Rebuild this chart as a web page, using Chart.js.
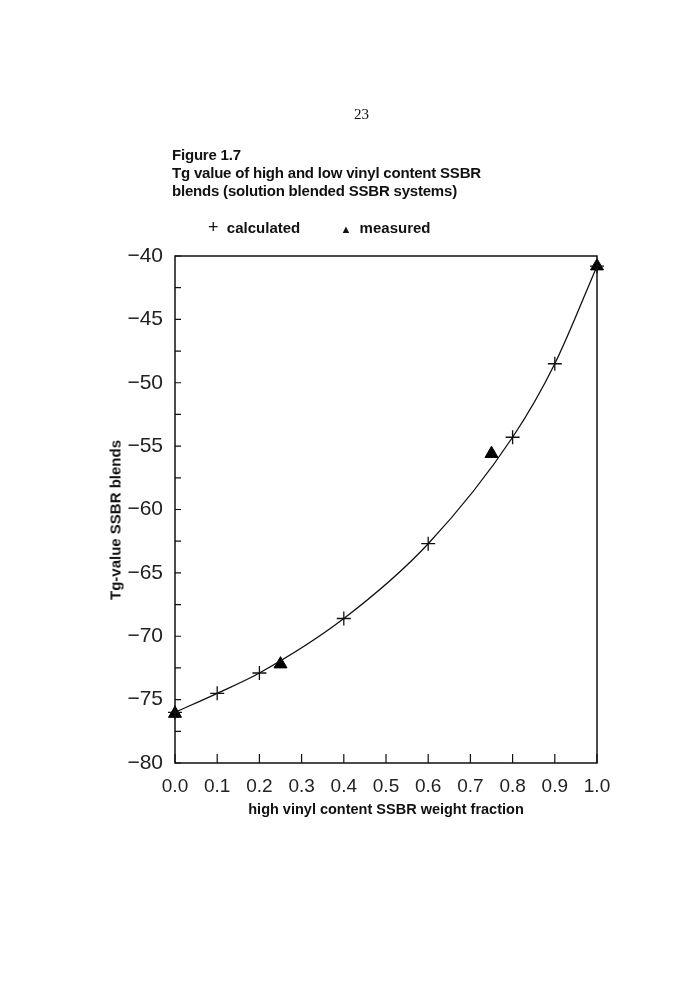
<!DOCTYPE html>
<html>
<head>
<meta charset="utf-8">
<script src="https://cdn.jsdelivr.net/npm/chart.js@4"></script>
<style>
  body { margin: 0; background: #fff; }
  #wrap { position: relative; width: 700px; height: 1000px; }
  #myChart { position: absolute; left: 0; top: 0; }
  .txt { position: absolute; color: #111; font-family: "Liberation Sans", Arial, sans-serif; white-space: nowrap; }
  #page { left: 354px; top: 106px; font-family: "Liberation Serif", serif; font-size: 15px; }
  #title { left: 172px; top: 146px; font-size: 15px; font-weight: bold; line-height: 18px; letter-spacing: -0.2px; }
  #legend { left: 208px; top: 217px; font-size: 15px; font-weight: bold; }
  #ytitle { left: 115px; top: 520px; font-size: 15px; font-weight: bold; transform: translate(-50%, -50%) rotate(-90deg); }
</style>
</head>
<body>
<div id="wrap">
  <canvas id="myChart" width="700" height="1000"></canvas>
  <div class="txt" id="page">23</div>
  <div class="txt" id="title">Figure 1.7<br>Tg value of high and low vinyl content SSBR<br>blends (solution blended SSBR systems)</div>
  <div class="txt" id="legend"><span style="font-weight:normal;font-size:18px">+</span>&nbsp; calculated <span style="display:inline-block;width:36px"></span><span style="font-size:11px">&#9650;</span>&nbsp; measured</div>
  <div class="txt" id="ytitle">Tg-value SSBR blends</div>
</div>
<script>
const fractions = [0.0, 0.1, 0.2, 0.4, 0.6, 0.8, 0.9, 1.0];
const calculated = [-76.0, -74.5, -72.9, -68.6, -62.7, -54.3, -48.5, -40.8];
const measuredFractions = [0.0, 0.25, 0.75, 1.0];
const measured = [-76.1, -72.2, -55.6, -40.8];

const xTitle = 'high vinyl content SSBR weight fraction';

document.addEventListener('DOMContentLoaded', function () {
  const ctx = document.getElementById('myChart');

  const calcDataset = {
    label: 'calculated',
    data: fractions.map((f, i) => ({ x: f, y: calculated[i] })),
    showLine: true,
    borderColor: '#111',
    borderWidth: 1.3,
    cubicInterpolationMode: 'monotone',
    pointStyle: 'cross',
    pointRadius: 7,
    pointBorderWidth: 1.3,
    pointBorderColor: '#111',
    fill: false,
    clip: false
  };

  const measDataset = {
    label: 'measured',
    data: measuredFractions.map((f, i) => ({ x: f, y: measured[i] })),
    showLine: false,
    pointStyle: 'triangle',
    pointRadius: 7.5,
    pointBackgroundColor: '#000',
    pointBorderColor: '#000',
    clip: false
  };

  // box around the plot and inward tick marks
  const frame = {
    id: 'frame',
    afterDatasetsDraw(chart) {
      const c = chart.ctx, a = chart.chartArea;
      const xs = chart.scales.x, ys = chart.scales.y;
      c.save();
      c.strokeStyle = '#111';
      c.lineWidth = 1.5;
      c.strokeRect(a.left, a.top, a.right - a.left, a.bottom - a.top);
      c.lineWidth = 1.2;
      c.beginPath();
      xs.ticks.forEach(t => {
        const px = xs.getPixelForValue(t.value);
        c.moveTo(px, a.bottom);
        c.lineTo(px, a.bottom - 9);
      });
      ys.ticks.forEach(t => {
        const py = ys.getPixelForValue(t.value);
        c.moveTo(a.left, py);
        c.lineTo(a.left + 6, py);
      });
      c.stroke();
      c.restore();
    }
  };

  new Chart(ctx, {
    type: 'scatter',
    data: { datasets: [calcDataset, measDataset] },
    options: {
      responsive: false,
      animation: false,
      layout: { padding: { left: 100, right: 103, top: 256, bottom: 177 } },
      plugins: { legend: { display: false }, tooltip: { enabled: false } },
      scales: {
        x: {
          type: 'linear',
          min: 0, max: 1,
          grid: { display: false, drawTicks: false },
          border: { display: false },
          ticks: {
            stepSize: 0.1,
            padding: 12,
            color: '#222',
            font: { family: 'Liberation Sans', size: 19 },
            callback: v => v.toFixed(1)
          },
          title: {
            display: true,
            text: xTitle,
            color: '#111',
            padding: { top: 0, bottom: 4 },
            font: { family: 'Liberation Sans', size: 14.5, weight: 'bold' }
          },
          afterFit: s => { s.height = 60; }
        },
        y: {
          type: 'linear',
          min: -80, max: -40,
          grid: { display: false, drawTicks: false },
          border: { display: false },
          ticks: {
            stepSize: 2.5,
            autoSkip: false,
            padding: 12,
            color: '#222',
            font: { family: 'Liberation Sans', size: 21 },
            callback: v => (v % 5 === 0 ? '\u2212' + Math.abs(v) : '')
          },
          afterFit: s => { s.width = 75; }
        }
      }
    },
    plugins: [frame]
  });
});
</script>
</body>
</html>
